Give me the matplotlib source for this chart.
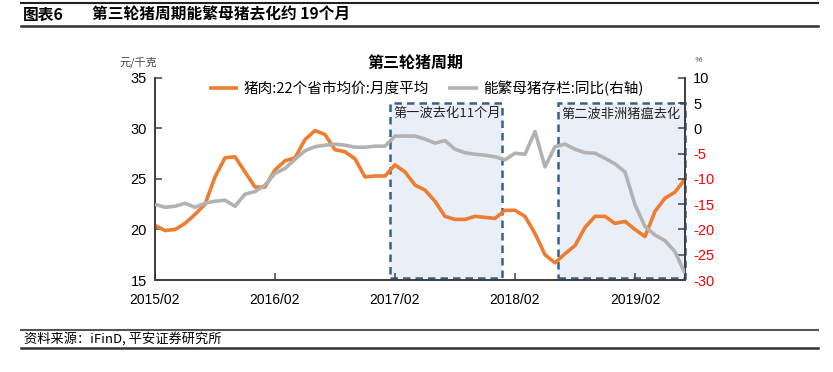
import matplotlib

matplotlib.use("Agg")
import matplotlib.pyplot as plt
import matplotlib.transforms as mtransforms
from matplotlib.patches import Rectangle
from matplotlib.lines import Line2D

plt.rcParams["font.family"] = ["Liberation Sans", "Noto Sans CJK SC", "DejaVu Sans"]

# monthly, 2015/02 .. 2019/07
pork_price = [
    20.4, 19.9, 20.0, 20.6, 21.5, 22.5, 25.2, 27.1, 27.2, 25.7, 24.2, 24.2,
    25.9, 26.8, 27.1, 28.9, 29.8, 29.4, 27.9, 27.7, 27.0, 25.2, 25.3, 25.3,
    26.4, 25.7, 24.4, 23.9, 22.8, 21.3, 21.0, 21.0, 21.3, 21.2, 21.1, 21.9,
    21.9, 21.3, 19.6, 17.5, 16.7, 17.6, 18.4, 20.2, 21.3, 21.3, 20.6, 20.8,
    20.0, 19.3, 21.8, 23.1, 23.7, 25.0,
]
sow_yoy = [
    -15.0, -15.6, -15.4, -14.8, -15.6, -14.8, -14.4, -14.2, -15.4, -13.0, -12.5, -11.2,
    -8.9, -7.9, -6.1, -4.4, -3.6, -3.3, -3.1, -3.3, -3.7, -3.7, -3.5, -3.5,
    -1.5, -1.5, -1.5, -2.1, -2.9, -2.4, -4.1, -4.8, -5.1, -5.3, -5.6, -6.2,
    -4.9, -5.1, -0.6, -7.6, -3.6, -3.1, -4.1, -4.8, -4.9, -5.9, -7.0, -8.6,
    -15.1, -19.4, -21.1, -22.2, -24.4, -28.7,
]
tick_pos = [0, 12, 24, 36, 48]
tick_labels = ["2015/02", "2016/02", "2017/02", "2018/02", "2019/02"]
left_ticks = [15, 20, 25, 30, 35]
right_ticks = [-30, -25, -20, -15, -10, -5, 0, 5, 10]

# de-stocking phases (x in month index)
phase_spans = [(23.5, 34.7), (40.3, 53.0)]
phase_labels = ["第一波去化11个月", "第二波非洲猪瘟去化"]

ORANGE = "#ed7d31"
GREY = "#b2b2b2"
SPINE = "#404040"
CJK = ["Noto Sans CJK SC", "DejaVu Sans"]

fig = plt.figure(figsize=(8.33, 3.72), dpi=100)
W, H = 833, 372


def fx(px):
    return px / W


def fy(py):
    return 1 - py / H


ax = fig.add_axes([fx(155), fy(280), fx(685) - fx(155), fy(78) - fy(280)])
ax2 = ax.twinx()

x = list(range(len(pork_price)))

# phase boxes: x in data, y in axes fraction
trans = mtransforms.blended_transform_factory(ax.transData, ax.transAxes)
y0, y1 = (-29.6 + 30) / 40, (5 + 30) / 40
for (a, b), lab in zip(phase_spans, phase_labels):
    ax.add_patch(Rectangle((a, y0), b - a, y1 - y0, transform=trans,
                           facecolor="#eaeff7", edgecolor="#3b5f8c", lw=1.8,
                           linestyle=(0, (3, 2)), zorder=1, clip_on=False))
    ax.text(a + 0.3, y1 - 0.02, lab, transform=trans, ha="left", va="top",
            fontsize=9.5, color="#222222", family=CJK, zorder=2)

(l1,) = ax.plot(x, pork_price, color=ORANGE, lw=2.6, zorder=3,
                label="猪肉:22个省市均价:月度平均", solid_capstyle="butt")
(l2,) = ax2.plot(x, sow_yoy, color=GREY, lw=2.6, zorder=3,
                 label="能繁母猪存栏:同比(右轴)", solid_capstyle="butt")

ax.set_xlim(0, len(pork_price) - 1)
ax.set_ylim(15, 35)
ax2.set_ylim(-30, 10)
ax.set_xticks(tick_pos)
ax.set_xticklabels(tick_labels)
ax.set_yticks(left_ticks)
ax2.set_yticks(right_ticks)
ax2.set_yticklabels([str(v) for v in right_ticks])
for t, v in zip(ax2.get_yticklabels(), right_ticks):
    t.set_color("red" if v < 0 else "black")

for a_ in (ax, ax2):
    a_.spines["top"].set_visible(False)
    for s in ("left", "right", "bottom"):
        a_.spines[s].set_color(SPINE)
        a_.spines[s].set_linewidth(1.3)
    a_.tick_params(direction="in", length=5, width=1.1, color=SPINE,
                   labelsize=10.5, pad=6)
ax.tick_params(axis="x", labelsize=10, pad=9)

ax.legend(handles=[l1, l2], loc="center", bbox_to_anchor=(0.512, 0.95), ncol=2,
          frameon=False, handlelength=2.0, handletextpad=0.4, columnspacing=1.3,
          prop={"family": CJK, "size": 10.5})

fig.text(fx(415), fy(63), "第三轮猪周期", ha="center", va="center",
         fontsize=11.5, weight="bold", family=CJK)
fig.text(fx(138), fy(62), "元/千克", ha="center", va="center",
         fontsize=8, color="#444444", family=CJK)
fig.text(fx(698), fy(60), "%", ha="center", va="center",
         fontsize=6, color="#444444", style="italic")

# report header and footer
fig.text(fx(23), fy(15), "图表6", ha="left", va="center",
         fontsize=11.3, weight="bold", family=CJK)
fig.text(fx(92), fy(15), "第三轮猪周期能繁母猪去化约 19个月", ha="left", va="center",
         fontsize=11.3, weight="bold", family=CJK)
fig.text(fx(24), fy(339), "资料来源：iFinD, 平安证券研究所", ha="left", va="center",
         fontsize=9.5, style="italic", family=CJK)
for py, lw, col in ((3, 1.5, "#222222"), (26, 1.8, "#333333"),
                    (330, 1.5, "#555555"), (348, 1.8, "#333333")):
    fig.add_artist(Line2D([fx(21), fx(818)], [fy(py), fy(py)], lw=lw, color=col,
                          transform=fig.transFigure))

fig.savefig("out.png", dpi=100, facecolor="white")
